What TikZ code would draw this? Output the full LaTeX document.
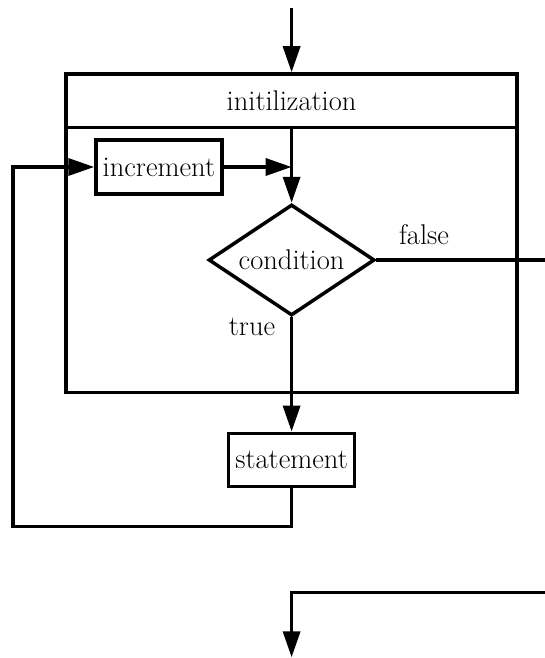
\documentclass[tikz,border=0pt]{standalone}
\usetikzlibrary{shapes.geometric,arrows.meta}
\begin{document}
\begin{tikzpicture}[x=1pt,y=-1pt,line width=3.5pt,
  txt/.style={inner sep=0pt,font=\fontsize{28.5}{34}\selectfont},
  box/.style={txt,draw,rectangle},
  cond/.style={txt,draw,diamond,aspect=2,minimum width=166pt,minimum height=111pt},
  arr/.style={-{Triangle[length=26pt,width=17pt]}}]
\useasboundingbox (0,0) rectangle (545,658);
\node[box,minimum width=451.2pt,minimum height=318.7pt] (loop) at (291.6,233.35) {};
\node[box,minimum width=451.2pt,minimum height=53.3pt] (init) at (291.6,100.65) {initilization};
\node[box,minimum width=125.8pt,minimum height=54pt] (inc) at (158.9,167) {increment};
\node[cond] (cond) at (291.6,260) {condition};
\node[box,minimum width=125.8pt,minimum height=53.4pt] (stmt) at (291.6,460) {statement};
\node[txt] (false) at (424,235) {false};
\node[txt] (true) at (252,327) {true};
\coordinate (top) at (291.6,8);
\coordinate (fout) at (545,260);
\coordinate (lb) at (291.6,526.7);
\coordinate (ll) at (13.2,526.7);
\coordinate (bin) at (545,592.3);
\coordinate (bout) at (291.6,657.3);
\draw[arr] (top) -- (loop.north);
\draw[arr] (init.south) -- (cond.north);
\draw[arr] (inc.east) -- (inc.east -| cond.north);
\draw (cond.east) -- (fout);
\draw[arr] (cond.south) -- (stmt.north);
\draw[arr] (stmt.south) -- (lb) -- (ll) |- (inc.west);
\draw[arr] (bin) -| (bout);
\end{tikzpicture}
\end{document}
